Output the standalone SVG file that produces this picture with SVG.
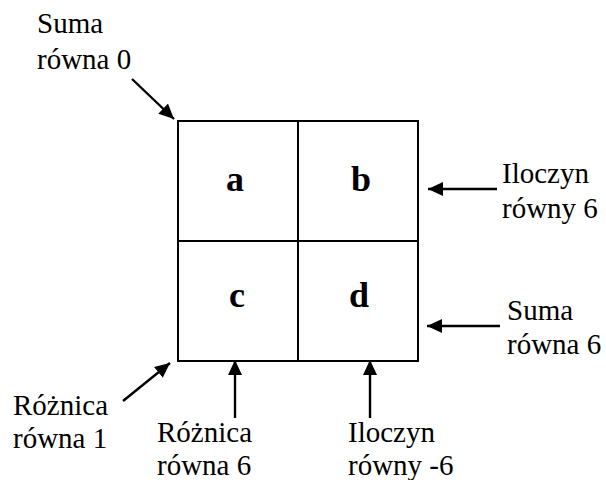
<svg xmlns="http://www.w3.org/2000/svg" width="606" height="480" viewBox="0 0 606 480">
  <style>
    .lbl { font-size: 29px; }
    .cell { font-size: 36px; font-weight: bold; text-anchor: middle; }
    .grid { fill: none; stroke: #000; stroke-width: 2; }
    .arr { stroke: #000; stroke-width: 2.4; fill: none; marker-end: url(#head); }
  </style>
  <defs>
    <marker id="head" markerUnits="userSpaceOnUse" markerWidth="16" markerHeight="15" refX="15" refY="7" orient="auto">
      <path d="M0,0 L15,7 L0,14 z" fill="#000"/>
    </marker>
  </defs>
  <rect width="606" height="480" fill="#fff"/>

  <!-- 2x2 grid -->
  <g id="grid">
    <rect class="grid" x="178" y="121" width="240" height="240"/>
    <line class="grid" x1="298" y1="121" x2="298" y2="361"/>
    <line class="grid" x1="178" y1="241" x2="418" y2="241"/>
  </g>

  <g font-family="Liberation Serif, DejaVu Serif, serif" fill="#000">
    <g id="cell-a"><text class="cell" x="235" y="191">a</text></g>
    <g id="cell-b"><text class="cell" x="361" y="191">b</text></g>
    <g id="cell-c"><text class="cell" x="237" y="307">c</text></g>
    <g id="cell-d"><text class="cell" x="359" y="307">d</text></g>

    <!-- labels -->
    <g id="label-suma0"><text class="lbl" x="37" y="33">Suma</text><text class="lbl" x="37" y="69">równa 0</text></g>
    <g id="label-iloczyn6"><text class="lbl" x="502" y="183">Iloczyn</text><text class="lbl" x="502" y="218">równy 6</text></g>
    <g id="label-suma6"><text class="lbl" x="507" y="320">Suma</text><text class="lbl" x="507" y="354">równa 6</text></g>
    <g id="label-roznica1"><text class="lbl" x="13" y="415">Różnica</text><text class="lbl" x="13" y="448">równa 1</text></g>
    <g id="label-roznica6"><text class="lbl" x="157" y="442">Różnica</text><text class="lbl" x="157" y="475">równa 6</text></g>
    <g id="label-iloczyn-6"><text class="lbl" x="348" y="442">Iloczyn</text><text class="lbl" x="348" y="475">równy -6</text></g>
  </g>

  <!-- connectors -->
  <g id="connectors">
    <line class="arr" x1="132" y1="79" x2="174" y2="119"/>
    <line class="arr" x1="497" y1="189" x2="428" y2="189"/>
    <line class="arr" x1="500" y1="326" x2="427" y2="326"/>
    <line class="arr" x1="123" y1="401" x2="170" y2="363"/>
    <line class="arr" x1="235" y1="418" x2="235" y2="360"/>
    <line class="arr" x1="370" y1="418" x2="370" y2="360"/>
  </g>
</svg>
